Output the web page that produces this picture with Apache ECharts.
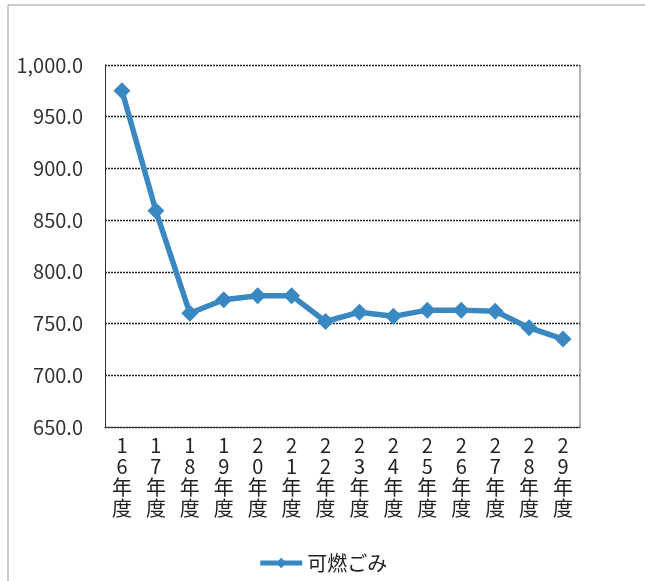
<!DOCTYPE html>
<html>
<head>
<meta charset="utf-8">
<script src="https://cdn.jsdelivr.net/npm/echarts@6/dist/echarts.min.js"></script>
<style>
  html, body { margin: 0; padding: 0; background: #fff; }
  #chart { width: 645px; height: 581px; }
</style>
</head>
<body>
<div id="chart"></div>
<script>
// 年度ごとの可燃ごみ量
const years = ['16', '17', '18', '19', '20', '21', '22', '23', '24', '25', '26', '27', '28', '29'];
const burnable = [975, 859, 760, 773, 777, 777, 752, 761, 757, 763, 763, 762, 746, 735];
const seriesName = '可燃ごみ';

// 縦書きラベル: 数字と「年度」を一文字ずつ改行
const categories = years.map(y => y.split('').concat(['年', '度']).join('\n'));

const chart = echarts.init(document.getElementById('chart'));
chart.setOption({
  backgroundColor: '#fff',
  animation: false,
  textStyle: { fontFamily: '"Noto Sans CJK JP", "Noto Sans", sans-serif' },
  graphic: [{
    type: 'rect',
    shape: { x: 8, y: 5, width: 660, height: 600 },
    style: { fill: 'none', stroke: '#9a9a9a', lineWidth: 1 }
  }, {
    // プロット領域の右端
    type: 'line',
    shape: { x1: 580, y1: 65, x2: 580, y2: 427 },
    style: { stroke: '#666', lineWidth: 1 }
  }],
  grid: { left: 105, right: 65, top: 65, bottom: 154 },
  legend: {
    bottom: 3,
    left: 'center',
    itemWidth: 42,
    itemHeight: 13,
    itemGap: 4,
    lineStyle: { width: 5 },
    textStyle: { fontSize: 20, color: '#222' },
    data: [seriesName]
  },
  xAxis: {
    type: 'category',
    data: categories,
    boundaryGap: true,
    axisLine: { show: true, lineStyle: { color: '#333', width: 1 } },
    axisTick: { show: false },
    axisLabel: {
      interval: 0,
      fontSize: 20,
      lineHeight: 21,
      color: '#222',
      margin: 8,
      verticalAlign: 'top'
    },
    splitLine: { show: false }
  },
  yAxis: {
    type: 'value',
    min: 650,
    max: 1000,
    interval: 50,
    axisLine: { show: true, lineStyle: { color: '#333', width: 1 } },
    axisTick: { show: false },
    axisLabel: {
      fontSize: 20,
      color: '#333',
      margin: 22,
      formatter: v => v.toLocaleString('en-US', { minimumFractionDigits: 1, maximumFractionDigits: 1 })
    },
    splitLine: { show: true, lineStyle: { color: '#222', width: 1.3, type: [2, 1] } }
  },
  series: [{
    name: seriesName,
    type: 'line',
    data: burnable,
    symbol: 'diamond',
    symbolSize: 17,
    lineStyle: { color: '#3a88c2', width: 5.5 },
    itemStyle: { color: '#3a88c2' }
  }]
});
</script>
</body>
</html>
